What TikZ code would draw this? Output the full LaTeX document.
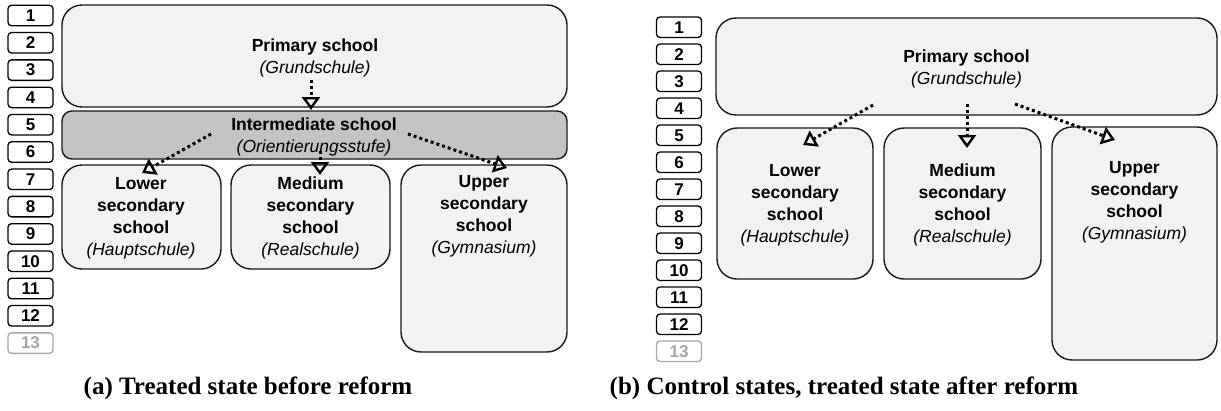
\documentclass[tikz,border=0pt]{standalone}
\usepackage{fontspec}
\setmainfont{Liberation Serif}
\newfontfamily\sansf{Liberation Sans}
\usetikzlibrary{arrows.meta}
\definecolor{boxfill}{HTML}{F2F2F2}
\definecolor{interfill}{HTML}{C3C3C3}
\definecolor{faded}{HTML}{A6A6A6}
\begin{document}
\begin{tikzpicture}[x=1pt,y=-1pt,
  school/.style={draw=black!90, line width=1.4pt, fill=boxfill, rounded corners=20pt, inner sep=0pt},
  grade/.style={draw=black, line width=1.3pt, rounded corners=3.5pt, minimum width=45pt, minimum height=20.5pt, inner sep=0pt, font=\sansf\bfseries\fontsize{17}{17}\selectfont},
  lbl/.style={align=center, font=\sansf\fontsize{17.5}{22}\selectfont, inner sep=0pt},
  flow/.style={line width=3pt, dash pattern=on 3pt off 3pt, -{Triangle[open,length=13pt 0,width=18pt 0,line width=2.4pt]}},
  caption/.style={anchor=base, inner sep=0pt, font=\bfseries\fontsize{25}{28}\selectfont}
]
\useasboundingbox (0,0) rectangle (1221,410);

% grade columns
\foreach \i in {1,...,12} {
  \node[grade] (gl\i) at (30.5, {5+27.3*(\i-1)+10.5}) {\i};
  \node[grade] (gr\i) at (679, {17+27.0*(\i-1)+10.25}) {\i};
}
\node[grade, draw=faded, text=faded] (gl13) at (30.5, {5+27.3*12+10.5}) {13};
\node[grade, draw=faded, text=faded] (gr13) at (679, {17+27.0*12+10.25}) {13};

% ---------- panel (a) ----------
\node[school, minimum width=505pt, minimum height=102pt] (primL) at (314.5,56) {};
\node[school, fill=interfill, rounded corners=10pt, minimum width=505pt, minimum height=48pt] (interL) at (314.5,135) {};
\node[school, minimum width=159pt, minimum height=104pt] (lowL) at (141.5,217) {};
\node[school, minimum width=159pt, minimum height=104pt] (medL) at (310.5,217) {};
\node[school, minimum width=166pt, minimum height=187pt] (upL) at (484,258.5) {};

\node[lbl] (tprimL) at (315,58) {\textbf{Primary school}\\\textit{(Grundschule)}};
\node[lbl] (tinterL) at (314,136.5) {\textbf{Intermediate school}\\\textit{(Orientierungsstufe)}};
\node[lbl] (tlowL) at (141,218) {\textbf{Lower}\\\textbf{secondary}\\\textbf{school}\\\textit{(Hauptschule)}};
\node[lbl] (tmedL) at (310.5,218) {\textbf{Medium}\\\textbf{secondary}\\\textbf{school}\\\textit{(Realschule)}};
\node[lbl] (tupL) at (484,216.5) {\textbf{Upper}\\\textbf{secondary}\\\textbf{school}\\\textit{(Gymnasium)}};

\coordinate (a1s) at (311,80);  \coordinate (a1e) at (311,110);
\coordinate (a2s) at (211,134); \coordinate (a2e) at (142,173);
\coordinate (a3s) at (320,151); \coordinate (a3e) at (320,175);
\coordinate (a4s) at (408,134); \coordinate (a4e) at (507,168);
\draw[flow] (a1s) -- (a1e);
\draw[flow] (a2s) -- (a2e);
\draw[flow] (a3s) -- (a3e);
\draw[flow] (a4s) -- (a4e);

\node[caption] (capa) at (248,394) {(a) Treated state before reform};

% ---------- panel (b) ----------
\node[school, minimum width=501pt, minimum height=97pt] (primR) at (966.5,66.5) {};
\node[school, minimum width=156pt, minimum height=151pt] (lowR) at (795,203.5) {};
\node[school, minimum width=157pt, minimum height=151pt] (medR) at (962.5,203.5) {};
\node[school, minimum width=165pt, minimum height=233pt] (upR) at (1134.5,243.5) {};

\node[lbl] (tprimR) at (966.5,68.5) {\textbf{Primary school}\\\textit{(Grundschule)}};
\node[lbl] (tlowR) at (795,205) {\textbf{Lower}\\\textbf{secondary}\\\textbf{school}\\\textit{(Hauptschule)}};
\node[lbl] (tmedR) at (962.5,205) {\textbf{Medium}\\\textbf{secondary}\\\textbf{school}\\\textit{(Realschule)}};
\node[lbl] (tupR) at (1134.5,202.5) {\textbf{Upper}\\\textbf{secondary}\\\textbf{school}\\\textit{(Gymnasium)}};

\coordinate (b1s) at (873,105);  \coordinate (b1e) at (803,145);
\coordinate (b2s) at (967,104);  \coordinate (b2e) at (967,148);
\coordinate (b3s) at (1015,104); \coordinate (b3e) at (1115,140);
\draw[flow] (b1s) -- (b1e);
\draw[flow] (b2s) -- (b2e);
\draw[flow] (b3s) -- (b3e);

\node[caption] (capb) at (844,394) {(b) Control states, treated state after reform};
\end{tikzpicture}
\end{document}
